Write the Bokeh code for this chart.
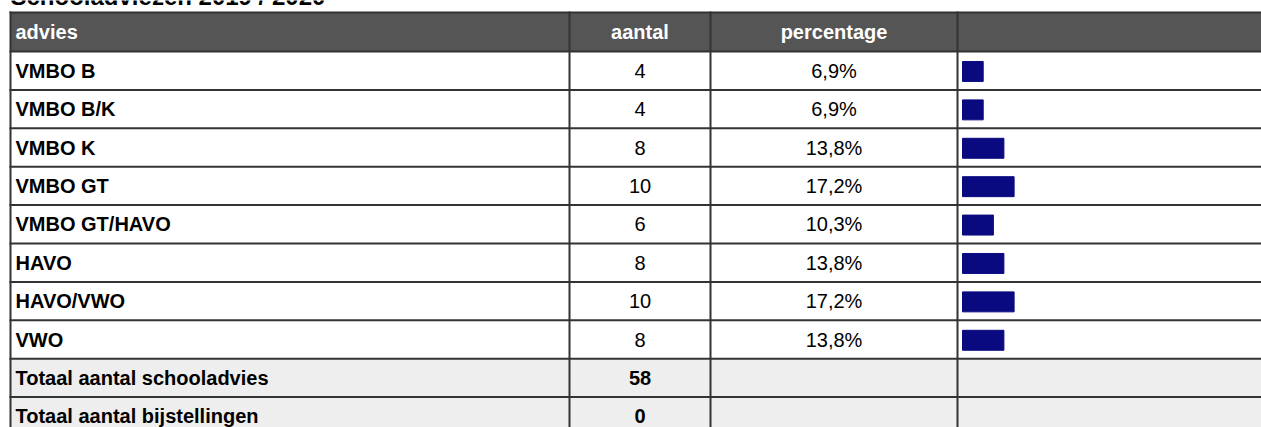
from bokeh.plotting import figure
from bokeh.models import Range1d, ColumnDataSource
from bokeh.embed import file_html
from bokeh.resources import INLINE
from bokeh.core.properties import value

# ---- data ----
title = "Schooladviezen 2019 / 2020"
headers = ["advies", "aantal", "percentage", ""]
advies = ["VMBO B", "VMBO B/K", "VMBO K", "VMBO GT", "VMBO GT/HAVO", "HAVO", "HAVO/VWO", "VWO"]
aantal = [4, 4, 8, 10, 6, 8, 10, 8]
percentage = [6.9, 6.9, 13.8, 17.2, 10.3, 13.8, 17.2, 13.8]
total_labels = ["Totaal aantal schooladvies", "Totaal aantal bijstellingen"]
total_values = [58, 0]

# ---- layout (page pixels) ----
W, H = 1261, 427
ROW0 = 51.0      # top of first data row (px)
PITCH = 38.4     # row height (px)
HDR_TOP = (12 - ROW0) / PITCH
col_x = [10, 569, 710, 957]
c_aantal = (col_x[1] + col_x[2]) / 2
c_pct = (col_x[2] + col_x[3]) / 2
BAR_X0 = 962
PX_PER_PCT = 3.0
FONT = "Liberation Sans"
BORDER = "#333333"

p = figure(width=W, height=H,
           x_range=Range1d(0, W),
           y_range=Range1d((H - ROW0) / PITCH, -ROW0 / PITCH),
           x_axis_type=None, y_axis_type=None,
           output_backend="svg", toolbar_location=None,
           min_border=0, outline_line_color=None,
           background_fill_color="white", border_fill_color="white")
p.extra_x_ranges = {"pct": Range1d(-BAR_X0 / PX_PER_PCT, (W - BAR_X0) / PX_PER_PCT)}

n = len(advies)
nrows = n + len(total_labels)

# backgrounds
p.quad(left=[col_x[0]], right=[W + 50], top=[HDR_TOP], bottom=[0], fill_color="#555555", line_color=None)
p.quad(left=[col_x[0]] * len(total_labels), right=[W + 50] * len(total_labels),
       top=[n + k for k in range(len(total_labels))],
       bottom=[n + k + 1 for k in range(len(total_labels))],
       fill_color="#eeeeee", line_color=None)

# bars
rows = list(range(n))
src = ColumnDataSource(dict(y=[r + 0.52 for r in rows], pct=percentage))
p.hbar(y="y", left=0, right="pct", height=0.52, source=src, x_range_name="pct",
       fill_color="#0a0a80", line_color="#0a0a80", line_width=1)

# borders
hy = [HDR_TOP] + list(range(nrows + 1))
p.segment(x0=[col_x[0] - 1] * len(hy), x1=[W + 50] * len(hy), y0=hy, y1=hy,
          line_color=BORDER, line_width=2)
p.segment(x0=col_x, x1=col_x, y0=[HDR_TOP - 1 / PITCH] * 4, y1=[nrows + 0.5] * 4,
          line_color=BORDER, line_width=2)

# title (mostly above view, as in the reference)
p.text(x=[10], y=[(-4 - ROW0) / PITCH], text=[title], text_font=value(FONT),
       text_font_size="24px", text_font_style="bold", text_color="black",
       text_baseline="alphabetic", text_align="left")

# header texts
hmid = HDR_TOP / 2
p.text(x=[15, c_aantal, c_pct], y=[hmid] * 3, text=headers[:3],
       text_align=["left", "center", "center"], text_baseline="middle",
       text_font=value(FONT), text_font_size="20px", text_font_style="bold",
       text_color="white")

# data texts
ym = [r + 0.5 for r in rows]
p.text(x=[15] * n, y=ym, text=advies, text_align="left", text_baseline="middle",
       text_font=value(FONT), text_font_size="20px", text_font_style="bold", text_color="black")
p.text(x=[c_aantal] * n, y=ym, text=[str(a) for a in aantal], text_align="center",
       text_baseline="middle", text_font=value(FONT), text_font_size="20px", text_color="black")
p.text(x=[c_pct] * n, y=ym, text=[f"{v:.1f}".replace(".", ",") + "%" for v in percentage],
       text_align="center", text_baseline="middle", text_font=value(FONT),
       text_font_size="20px", text_color="black")

# totals
ty = [n + k + 0.5 for k in range(len(total_labels))]
p.text(x=[15] * len(total_labels), y=ty, text=total_labels, text_align="left",
       text_baseline="middle", text_font=value(FONT), text_font_size="20px",
       text_font_style="bold", text_color="black")
p.text(x=[c_aantal] * len(total_labels), y=ty, text=[str(v) for v in total_values],
       text_align="center", text_baseline="middle", text_font=value(FONT),
       text_font_size="20px", text_font_style="bold", text_color="black")

open("out.html", "w").write(file_html(p, INLINE))
